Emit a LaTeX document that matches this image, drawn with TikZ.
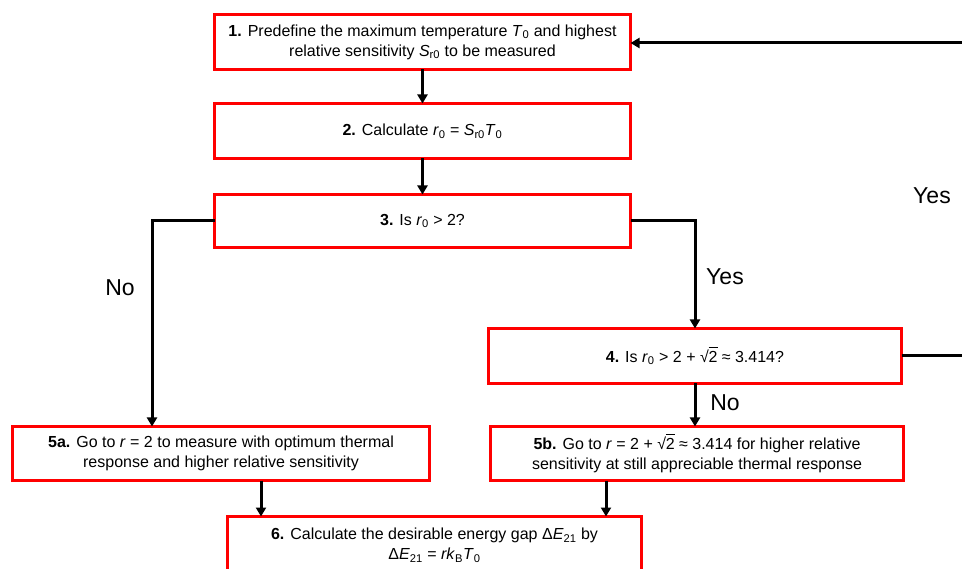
\documentclass[tikz,border=0pt]{standalone}
\usepackage{fontspec}
\setmainfont{Liberation Sans}
\usetikzlibrary{arrows.meta}
\newcommand\vi[1]{\textit{#1}}
\newcommand\sqrttwo{\mbox{√\kern-0.02em\rlap{\rule[0.86em]{0.56em}{0.06em}}2}}
\tikzset{
  box/.style={draw=red, line width=2.8pt, fill=white, align=center, inner sep=0pt, outer sep=0pt, font=\fontsize{16}{20}\selectfont},
  flow/.style={draw=black, line width=3pt, -{Triangle[width=10pt,length=9pt]}},
  lab/.style={font=\fontsize{23}{27}\selectfont, inner sep=0pt}
}
\begin{document}
\begin{tikzpicture}[x=1pt,y=-1pt]
\clip (0,0) rectangle (962,569);
\useasboundingbox (0,0) rectangle (962,569);
\node[box, minimum width=416pt, minimum height=55pt] (b1) at (422.5,42)
  {\textbf{1.} Predefine the maximum temperature \vi{T}\textsubscript{0} and highest\\relative sensitivity \vi{S}\textsubscript{r0} to be measured};
\node[box, minimum width=416pt, minimum height=55pt] (b2) at (422.5,131)
  {\textbf{2.} Calculate \vi{r}\textsubscript{0} = \vi{S}\textsubscript{r0}\vi{T}\textsubscript{0}};
\node[box, minimum width=416pt, minimum height=53pt] (b3) at (422.5,221)
  {\textbf{3.} Is \vi{r}\textsubscript{0} > 2?};
\node[box, minimum width=413pt, minimum height=55pt] (b4) at (695,356)
  {\textbf{4.} Is \vi{r}\textsubscript{0} > 2 + \sqrttwo{} ≈ 3.414?};
\node[box, minimum width=417pt, minimum height=54pt] (b5a) at (221,453.5)
  {\textbf{5a.} Go to \vi{r} = 2 to measure with optimum thermal\\response and higher relative sensitivity};
\node[box, minimum width=413pt, minimum height=54pt] (b5b) at (697,453.5)
  {\textbf{5b.} Go to \vi{r} = 2 + \sqrttwo{} ≈ 3.414 for higher relative\\sensitivity at still appreciable thermal response};
\node[box, minimum width=414pt, minimum height=57pt] (b6) at (434.5,545)
  {\textbf{6.} Calculate the desirable energy gap Δ\vi{E}\textsubscript{21} by\\Δ\vi{E}\textsubscript{21} = \vi{rk}\textsubscript{B}\vi{T}\textsubscript{0}};
\coordinate (cL) at (152,221);
\coordinate (cR) at (695,221);
\coordinate (loopB) at (985,356);
\coordinate (loopT) at (985,43);
\draw[flow] (b1.south) -- (b2.north);
\draw[flow] (b2.south) -- (b3.north);
\draw[flow] (b3.west) -- (cL) -- (cL |- b5a.north);
\draw[flow] (b3.east) -- (cR) -- (cR |- b4.north);
\draw[flow] (b4.south) -- (b4.south |- b5b.north);
\draw[flow] (b4.east) -- (loopB) -- (loopT) -- (b1.east |- loopT);
\draw[flow] (261,0 |- b5a.south) -- (261,0 |- b6.north);
\draw[flow] (606,0 |- b5b.south) -- (606,0 |- b6.north);
\node[lab] (lno1) at (120,288) {No};
\node[lab] (lyes1) at (725,277) {Yes};
\node[lab] (lno2) at (725,403) {No};
\node[lab] (lyes2) at (932,196) {Yes};
\end{tikzpicture}
\end{document}
